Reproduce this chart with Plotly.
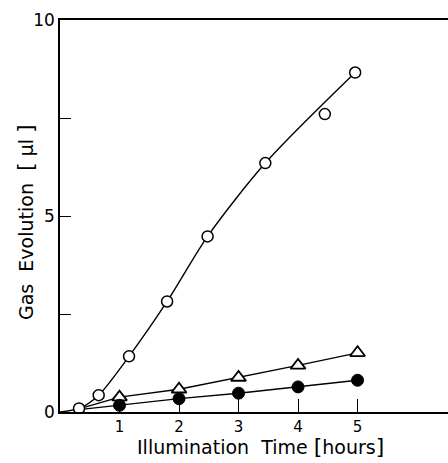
import plotly.graph_objects as go

# Open circles (upper curve)
open_x = [0.32, 0.65, 1.16, 1.80, 2.48, 3.45, 4.45, 4.96]
open_y = [0.09, 0.43, 1.42, 2.82, 4.48, 6.35, 7.60, 8.66]
# smooth fitted curve through the open-circle data (point at 4.45 lies off the curve)
curve_x = [0.0, 0.32, 0.65, 1.16, 1.80, 2.48, 3.45, 4.96]
curve_y = [0.0, 0.09, 0.43, 1.42, 2.82, 4.48, 6.35, 8.66]

# Triangles
tri_x = [0.32, 1, 2, 3, 4, 5]
tri_y = [0.08, 0.38, 0.58, 0.88, 1.19, 1.51]
tri_show = [0, 1, 1, 1, 1, 1]

# Filled circles
fill_x = [0.32, 1, 2, 3, 4, 5]
fill_y = [0.06, 0.17, 0.34, 0.48, 0.64, 0.81]
fill_show = [0, 1, 1, 1, 1, 1]

x_ticks = [1, 2, 3, 4, 5]
x_ticktext = ["1", "2", "3", "4", "5"]
y_ticks = [0, 2.5, 5, 7.5, 10]
y_ticktext = ["0", "", "5", "", "10"]

fig = go.Figure()
fig.add_trace(go.Scatter(x=curve_x, y=curve_y, mode="lines", line=dict(color="black", width=1.4, shape="spline", smoothing=0.8), showlegend=False, hoverinfo="skip"))
# connecting lines
fig.add_trace(go.Scatter(x=tri_x, y=tri_y, mode="lines", line=dict(color="black", width=1.4), showlegend=False))
fig.add_trace(go.Scatter(x=fill_x, y=fill_y, mode="lines", line=dict(color="black", width=1.4), showlegend=False))
# markers
fig.add_trace(go.Scatter(x=[x for x, s in zip(tri_x, tri_show) if s], y=[y for y, s in zip(tri_y, tri_show) if s],
                         mode="markers", opacity=1,
                         marker=dict(symbol="triangle-up", size=13, color="#ffffff", opacity=1,
                                     line=dict(color="#000000", width=1.8)), showlegend=False))
fig.add_trace(go.Scatter(x=[x for x, s in zip(fill_x, fill_show) if s], y=[y for y, s in zip(fill_y, fill_show) if s],
                         mode="markers", opacity=1,
                         marker=dict(symbol="circle", size=12, color="#000000", opacity=1,
                                     line=dict(color="#000000", width=1)), showlegend=False))
fig.add_trace(go.Scatter(x=open_x, y=open_y, mode="markers", opacity=1,
                         marker=dict(symbol="circle", size=11, color="#ffffff", opacity=1,
                                     line=dict(color="#000000", width=1.5)), showlegend=False))

font = "DejaVu Sans"
big = '<span style="font-size:22px">'
fig.update_layout(
    template="none",
    width=448, height=463,
    margin=dict(l=60, r=0, t=20, b=51),
    paper_bgcolor="white", plot_bgcolor="white",
    font=dict(family=font, color="black"),
    xaxis=dict(range=[0, 6.52], tickvals=x_ticks, ticktext=x_ticktext, ticks="inside", ticklen=13,
               tickwidth=1, tickcolor="black", showline=True, linecolor="black", linewidth=1.5,
               mirror=True, showgrid=False, zeroline=False, tickfont=dict(size=15)),
    yaxis=dict(range=[0, 10], tickvals=y_ticks, ticktext=y_ticktext, ticks="inside", ticklen=11,
               tickwidth=1, tickcolor="black", showline=True, linecolor="black", linewidth=1.5,
               showgrid=False, zeroline=False, tickfont=dict(size=17)),
    annotations=[
        dict(text="Illumination  Time " + big + "[</span>hours" + big + "]</span>",
             xref="paper", yref="paper", x=(260 - 60) / 388, y=-35 / 392,
             showarrow=False, xanchor="center", yanchor="middle", font=dict(size=19, family=font)),
        dict(text="Gas  Evolution  " + big + "[</span> μl " + big + "]</span>",
             xref="paper", yref="paper", x=-35 / 388, y=(412 - 222) / 392,
             showarrow=False, xanchor="center", yanchor="middle", textangle=-90, font=dict(size=19, family=font)),
    ],
)
fig.write_html("out.html")
